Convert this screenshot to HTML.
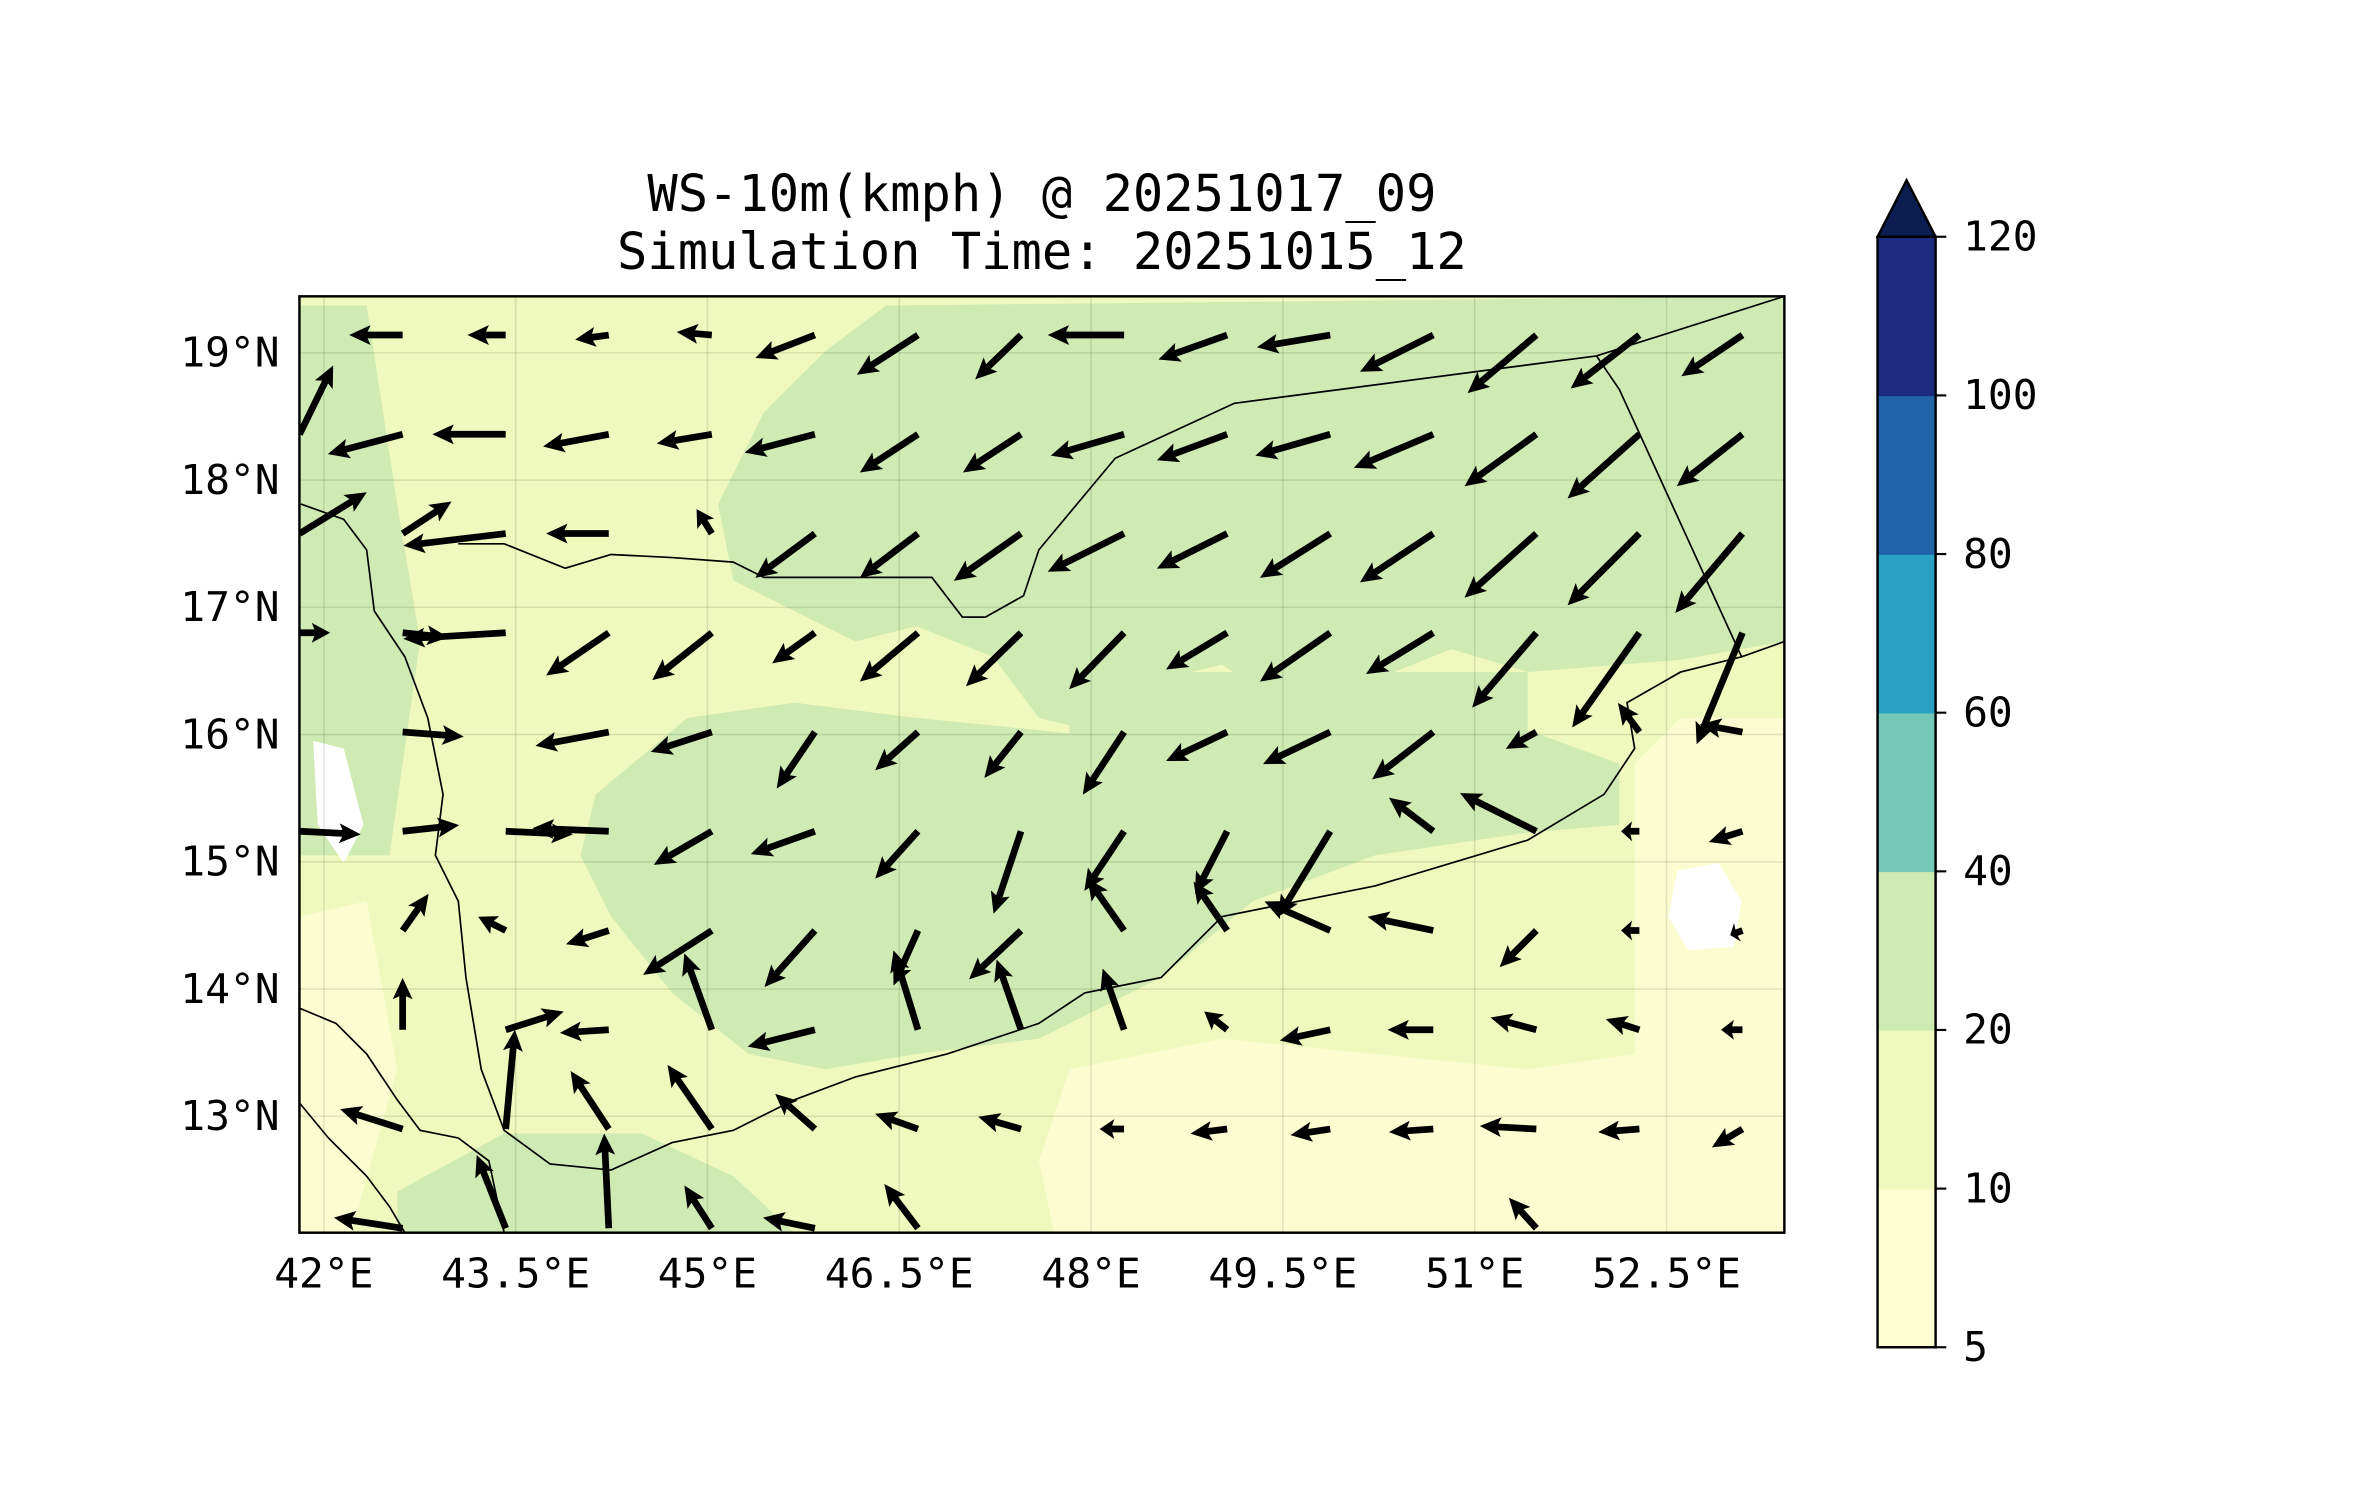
<!DOCTYPE html>
<html><head><meta charset="utf-8"><style>
html,body{margin:0;padding:0;background:#fff;}
svg{display:block;}
text{font-family:"DejaVu Sans Mono","Liberation Mono",monospace;fill:#000;}
</style></head><body>
<svg id="fig" width="2371" height="1500" viewBox="0 0 1552 982" preserveAspectRatio="none" xmlns="http://www.w3.org/2000/svg">
<defs><clipPath id="mapclip"><rect x="196" y="194" width="972" height="613"/></clipPath></defs>
<text x="682" y="138" font-size="33" text-anchor="middle">WS-10m(kmph) @ 20251017_09</text>
<text x="682" y="176" font-size="33" text-anchor="middle">Simulation Time: 20251015_12</text>
<g clip-path="url(#mapclip)">
<rect x="196" y="194" width="972" height="613" fill="#eff9bd"/>
<g fill="#fbfdd0">
<path d="M700,700 L800,680 L900,690 L1000,700 L1070,690 L1070,500 L1100,470 L1168,470 L1168,807 L690,807 L680,760 Z"/>
<path d="M196,600 L240,590 L260,700 L230,807 L196,807 Z"/>
</g>
<g fill="#cfebb3">
<path d="M470,330 L500,270 L540,230 L580,200 L1168,194 L1168,420 L1100,432 L1000,440 L950,425 L900,445 L850,470 L800,435 L760,445 L720,480 L680,470 L650,430 L600,410 L560,420 L520,400 L480,380 Z"/>
<path d="M390,520 L450,470 L520,460 L600,470 L700,480 L760,515 L850,500 L940,470 L1000,478 L1060,500 L1060,540 L1000,545 L900,560 L820,590 L760,640 L680,680 L600,690 L540,700 L490,690 L440,650 L400,600 L380,560 Z"/>
<path d="M260,780 L330,742 L420,742 L480,770 L520,807 L260,807 Z"/>
<path d="M196,200 L240,200 L260,330 L275,420 L255,560 L196,560 Z"/>
<path d="M700,440 L1000,440 L1000,520 L700,520 Z"/>
</g>
<g fill="#ffffff">
<path d="M1098,570 L1125,565 L1140,590 L1135,620 L1105,622 L1092,600 Z"/>
<path d="M205,485 L225,490 L238,540 L225,565 L208,540 Z"/>
</g>
<g stroke="#000" fill="none" stroke-width="1.1">
<polyline points="300,356 330,356 370,372 400,363 440,365 480,368 500,378 560,378 610,378 630,404 645,404 670,390 680,360 730,300 808,264 1045,233 1168,194"/>
<polyline points="1045,233 1060,255 1140,430"/>
<polyline points="197,330 225,340 240,360 245,400 265,430 280,470 290,520 285,560 300,590 305,640 315,700 330,740 360,762 400,766 440,748 480,740 520,720 560,705 620,690 680,670 710,650 760,640 800,600 850,590 900,580 950,565 1000,550 1050,520 1070,490 1065,460 1100,440 1140,430 1168,420"/>
<polyline points="196,660 220,670 240,690 260,720 275,740 300,745 320,760 330,807"/>
<polyline points="196,722 215,745 240,770 255,790 265,807"/>
</g>
<g stroke="#000" stroke-opacity="0.1" stroke-width="1" id="grid"></g>
<g id="arrows"></g>
</g>
<rect x="196" y="194" width="972" height="613" fill="none" stroke="#000" stroke-width="1.6"/>
<g id="axes"></g>
<g id="cbar"></g>
</svg>
<script>
// Wind vector components (display units), rows north->south, columns west->east
const uRows = [
 [0,-35,-25,-22,-23,-39,-40,-30,-50,-45,-48,-48,-45,-45,-40],
 [22,-49,-48,-43,-36,-46,-38,-38,-48,-46,-49,-52,-47,-47,-43],
 [44,32,-67,-41,-10,-39,-38,-44,-50,-46,-46,-48,-47,-47,-44],
 [20,30,-67,-41,-39,-28,-38,-36,-36,-40,-46,-44,-42,-44,-30],
 [0,40,0,-48,-40,-25,-28,-24,-27,-40,-44,-40,-20,-14,-28],
 [40,37,44,-50,-38,-42,-28,-18,-26,-21,-34,-29,-50,-12,-22],
 [0,17,-18,-28,-45,-33,-16,-34,-24,-22,-43,-43,-24,-12,-8],
 [0,0,38,-32,-18,-44,-16,-16,-14,-15,-33,-30,-30,-22,-14],
 [0,-41,6,-25,-29,-26,-28,-28,-16,-24,-26,-29,-37,-27,-20],
 [0,-45,-19,-3,-18,-34,-22,0,0,0,0,0,-18,0,0]
];
const vRows = [
 [0,0,0,-3,2,-15,-26,-29,0,-16,-8,-24,-38,-35,-27],
 [45,-13,0,-8,-6,-12,-25,-25,-14,-17,-14,-22,-34,-42,-34],
 [27,21,-8,0,16,-29,-29,-31,-25,-23,-29,-32,-42,-47,-52],
 [0,-3,-4,-28,-31,-20,-32,-35,-37,-24,-32,-27,-49,-62,-73],
 [0,-3,0,-9,-13,-37,-25,-30,-41,-19,-21,-31,-11,19,5],
 [-2,4,-2,2,-22,-15,-31,-54,-39,-41,-56,22,25,0,-7],
 [0,24,9,-9,-29,-37,-36,-32,34,32,19,9,-24,0,-3],
 [0,34,12,-2,50,-11,52,46,40,12,-7,0,8,7,0],
 [0,13,65,38,42,23,10,8,0,-3,-4,-2,2,-2,-12],
 [0,7,48,62,28,7,29,0,0,0,0,0,20,0,0]
];
const lonTicks = [42, 43.5, 45, 46.5, 48, 49.5, 51, 52.5];
const latTicks = [19, 18, 17, 16, 15, 14, 13];
const cbarLevels = [5, 10, 20, 40, 60, 80, 100, 120];
const cbarColors = ['#fcfed2','#eff9bd','#cdebb3','#74c8b8','#2aa1c3','#2264aa','#1c2a7f'];

const NS='http://www.w3.org/2000/svg';
function mk(tag, attrs, parent){const e=document.createElementNS(NS,tag);for(const k in attrs)e.setAttribute(k,attrs[k]);parent.appendChild(e);return e;}
function xOf(lon){return 212 + (lon-42)*83.7;}
function yOf(lat){return 231 + (19-lat)*83.3;}
const lon0=41.81, dLon=0.806, lat0=19.14, dLat=0.78;

const gridG=document.getElementById('grid');
lonTicks.forEach(l=>{const ln=mk('line',{x1:xOf(l),x2:xOf(l),y1:194,y2:807},gridG);

});
latTicks.forEach(l=>{const ln=mk('line',{x1:196,x2:1168,y1:yOf(l),y2:yOf(l)},gridG);

});

const arrowsG=document.getElementById('arrows');
uRows.forEach((row,i)=>row.forEach((u,j)=>{
  const v=vRows[i][j]; const L=Math.hypot(u,v); if(L<3) return;
  const x=xOf(lon0+dLon*j), y=yOf(lat0-dLat*i);
  const ang=Math.atan2(-v,u)*180/Math.PI;
  const hl=Math.min(14,L*0.6), ha=hl*0.86, w=2.2, hw=6.5;
  const pts=[[0,-w],[L-ha,-w],[L-hl,-hw],[L,0],[L-hl,hw],[L-ha,w],[0,w]].map(p=>p.join(',')).join(' ');
  const p=mk('polygon',{points:pts,fill:'#000',transform:`translate(${x},${y}) rotate(${ang})`},arrowsG);
  
  
}));

const axesG=document.getElementById('axes');
lonTicks.forEach(l=>{const t=mk('text',{x:xOf(l),y:843,'font-size':27,'text-anchor':'middle'},axesG);
t.textContent=l+'°E';

});
latTicks.forEach(l=>{const t=mk('text',{x:183,y:yOf(l)+9,'font-size':27,'text-anchor':'end'},axesG);
t.textContent=l+'°N';

});

const cbG=document.getElementById('cbar');
const cbX=1229, cbW=38, cbTop=155, cbBot=882, cbSeg=(cbBot-cbTop)/(cbarLevels.length-1);
function cbY(i){return cbBot-i*cbSeg;}
cbarColors.forEach((c,i)=>{const r=mk('rect',{x:cbX,y:cbY(i+1),width:cbW,height:cbSeg+0.5,fill:c},cbG);

});
const tri=mk('polygon',{points:`${cbX},${cbTop} ${cbX+cbW/2},118 ${cbX+cbW},${cbTop}`,fill:'#0b1d51',stroke:'#000','stroke-width':1.6},cbG);


const fr=mk('rect',{x:cbX,y:cbTop,width:cbW,height:cbBot-cbTop,fill:'none',stroke:'#000','stroke-width':1.6},cbG);


cbarLevels.forEach((lv,i)=>{
  const tk=mk('line',{x1:cbX+cbW,x2:cbX+cbW+7,y1:cbY(i),y2:cbY(i),stroke:'#000','stroke-width':1.4},cbG);
  
  
  const t=mk('text',{x:1285,y:cbY(i)+9,'font-size':27},cbG);
  t.textContent=lv;
  
  
});
</script>
</body></html>
